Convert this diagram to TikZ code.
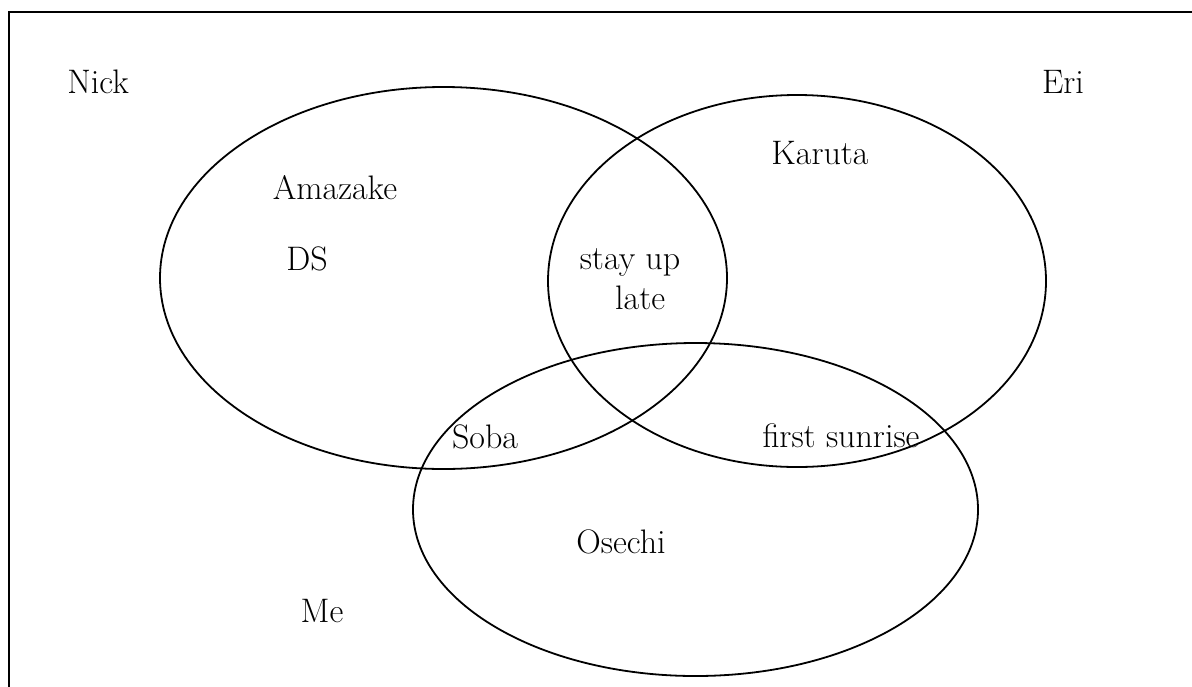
\documentclass[tikz,border=0pt]{standalone}
\usetikzlibrary{shapes.geometric}
\begin{document}
\begin{tikzpicture}[x=0.5pt,y=-0.5pt,
  venn/.style={draw,ellipse,line width=0.9pt,inner sep=0pt},
  lbl/.style={font=\fontsize{17}{20}\selectfont,inner sep=0pt,anchor=center},
  frameline/.style={line width=1.1pt}]
\useasboundingbox (0,0) rectangle (1192,686);
\coordinate (fbl) at (9,690);
\coordinate (ftl) at (9,12);
\coordinate (ftr) at (1196,12);
\draw[frameline] (fbl) -- (ftl) -- (ftr);
% sets
\node[venn,minimum width=283.5pt,minimum height=191pt] (nick) at (443.5,278) {};
\node[venn,minimum width=249pt,minimum height=186pt] (eri) at (797,281) {};
\node[venn,minimum width=282.5pt,minimum height=166.5pt] (me) at (695.5,509.5) {};
% labels
\node[lbl] (tnick) at (98,82) {Nick};
\node[lbl] (teri) at (1063,82) {Eri};
\node[lbl] (tme) at (322,611) {Me};
\node[lbl] (tama) at (335,188) {Amazake};
\node[lbl] (tds) at (307,259) {DS};
\node[lbl] (tkar) at (820,153) {Karuta};
\node[lbl,align=center] (tsul) at (630,279) {stay up\\\hspace*{0.6em}late};
\node[lbl] (tsoba) at (485,437) {Soba};
\node[lbl] (tfs) at (841,436) {first sunrise};
\node[lbl] (tos) at (621,542) {Osechi};
\end{tikzpicture}
\end{document}
